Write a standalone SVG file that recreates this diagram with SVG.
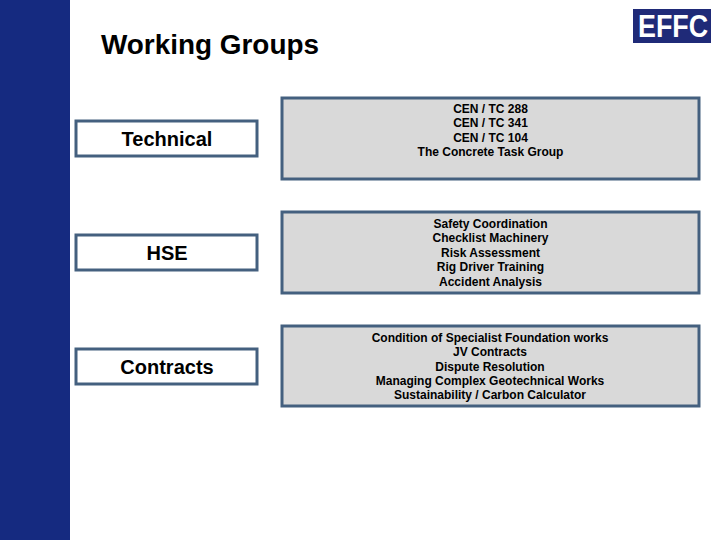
<svg xmlns="http://www.w3.org/2000/svg" width="720" height="540" viewBox="0 0 720 540">
<style>
text{font-family:"Liberation Sans",Arial,sans-serif;text-anchor:middle;fill:#000;font-weight:bold}
.l{fill:#fff;stroke:#44607f;stroke-width:3}
.r{fill:#d9d9d9;stroke:#44607f;stroke-width:3}
.t{font-size:20px}
.s{font-size:12px}
</style>
<rect width="720" height="540" fill="#fff"/>
<rect width="70" height="540" fill="#152a80"/>
<text x="101" y="54" font-size="27.900" style="text-anchor:start">Working Groups</text>
<g id="logo"><rect x="633" y="9" width="78" height="34" fill="#1f2a78"/>
<text x="673" y="37" font-size="32" textLength="70" lengthAdjust="spacingAndGlyphs" style="fill:#fff">EFFC</text></g>
<g id="technical"><rect class="l" x="76" y="121" width="181" height="35"/><text class="t" x="167" y="146">Technical</text></g>
<g id="hse"><rect class="l" x="76" y="235" width="181" height="35"/><text class="t" x="167" y="260">HSE</text></g>
<g id="contracts"><rect class="l" x="76" y="349" width="181" height="35"/><text class="t" x="167" y="374">Contracts</text></g>
<g id="technical-list"><rect class="r" x="282" y="98" width="417" height="81"/>
<text class="s" x="490.500" y="112.500">CEN / TC 288</text><text class="s" x="490.500" y="126.500">CEN / TC 341</text><text class="s" x="490.500" y="141.500">CEN / TC 104</text><text class="s" x="490.500" y="155.500">The Concrete Task Group</text></g>
<g id="hse-list"><rect class="r" x="282" y="212" width="417" height="81"/>
<text class="s" x="490.500" y="227.500">Safety Coordination</text><text class="s" x="490.500" y="241.500">Checklist Machinery</text><text class="s" x="490.500" y="256.500">Risk Assessment</text><text class="s" x="490.500" y="270.500">Rig Driver Training</text><text class="s" x="490.500" y="285.500">Accident Analysis</text></g>
<g id="contracts-list"><rect class="r" x="282" y="326" width="417" height="80"/>
<text class="s" x="490" y="341.500">Condition of Specialist Foundation works</text><text class="s" x="490" y="355.500">JV Contracts</text><text class="s" x="490" y="370.500">Dispute Resolution</text><text class="s" x="490" y="384.500">Managing Complex Geotechnical Works</text><text class="s" x="490" y="398.500">Sustainability / Carbon Calculator</text></g>
<g id="connectors"/>
</svg>
